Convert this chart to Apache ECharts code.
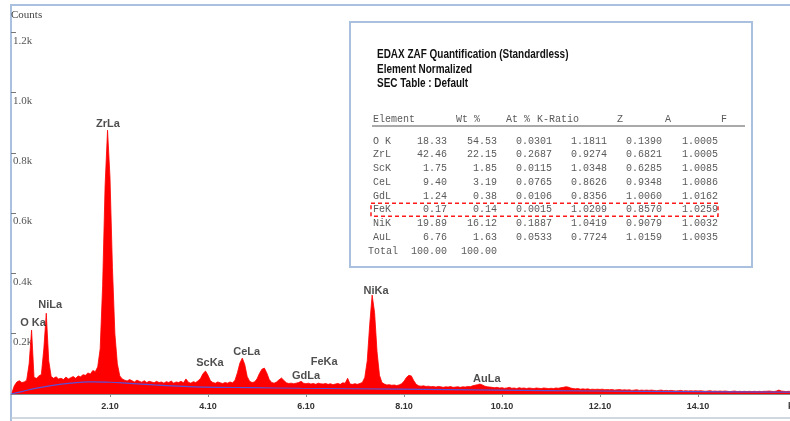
<!DOCTYPE html>
<html>
<head>
<meta charset="utf-8">
<script src="https://cdn.jsdelivr.net/npm/echarts@6.0.0/dist/echarts.min.js"></script>
<style>
  html, body { margin: 0; padding: 0; background: #fff; }
  #chart { width: 790px; height: 421px; }
</style>
</head>
<body>
<div id="chart"></div>
<script>
// spectrum channels: first channel energy and channel width (keV)
var energyStart = 0.10;
var energyStep = 0.05;
// counts per channel, one row per keV (0.10 .. 16.10)
var counts = [
  5, 28, 40, 44, 38, 40, 46, 100, 212, 55, 52, 60, 65, 150, 268, 110, 58, 52, 57, 50,
  52, 48, 56, 50, 54, 58, 52, 60, 57, 64, 62, 70, 66, 78, 74, 90, 150, 360, 690, 875,
  720, 420, 200, 100, 60, 50, 46, 43, 48, 44, 40, 46, 42, 39, 44, 38, 42, 40, 37, 42,
  38, 40, 36, 41, 38, 43, 36, 40, 38, 42, 37, 50, 39, 36, 41, 38, 44, 52, 68, 76,
  62, 44, 38, 36, 40, 37, 35, 38, 36, 40, 37, 45, 70, 102, 119, 98, 58, 42, 38, 40,
  50, 68, 82, 86, 70, 48, 38, 36, 40, 47, 53, 45, 37, 35, 36, 34, 36, 38, 42, 36,
  34, 36, 33, 35, 32, 36, 34, 33, 35, 32, 34, 31, 33, 35, 32, 37, 36, 52, 33, 32,
  34, 32, 35, 38, 55, 110, 230, 328, 270, 140, 62, 38, 33, 30, 31, 29, 30, 28, 30, 34,
  42, 55, 62, 60, 44, 32, 27, 26, 27, 25, 26, 24, 25, 23, 25, 24, 22, 24, 23, 25,
  22, 23, 24, 22, 24, 23, 25, 24, 27, 29, 31, 33, 30, 26, 24, 23, 22, 21, 22, 20,
  21, 19, 20, 22, 19, 20, 18, 21, 19, 20, 18, 20, 19, 18, 20, 19, 18, 20, 19, 18,
  19, 18, 20, 19, 21, 22, 24, 23, 20, 18, 17, 18, 16, 17, 16, 17, 15, 16, 15, 16,
  15, 16, 14, 15, 14, 15, 13, 14, 15, 13, 14, 13, 14, 12, 13, 14, 12, 13, 12, 13,
  12, 13, 12, 11, 12, 13, 11, 12, 11, 12, 11, 10, 11, 12, 10, 11, 10, 11, 10, 11,
  10, 11, 10, 9, 10, 11, 9, 10, 9, 10, 9, 10, 9, 8, 9, 10, 8, 9, 8, 9,
  8, 9, 8, 9, 8, 9, 8, 9, 9, 10, 9, 8, 10, 13, 10, 9, 8, 9, 8, 9,
  8
];
// fitted background (bremsstrahlung)
var bgEnergy = [0.08, 0.3, 0.55, 0.9, 1.3, 1.7, 2.1, 2.5, 3.0, 3.5, 4.0, 5.0, 6.0, 8.0, 10.0, 12.0, 14.0, 16.1];
var bgCounts = [0, 8, 18, 28, 36, 40, 39, 35, 30, 26, 23, 21, 19, 16, 13, 10, 8, 6];

var peakNames = ['O Ka', 'NiLa', 'ZrLa', 'ScKa', 'CeLa', 'GdLa', 'FeKa', 'NiKa', 'AuLa'];
var peakLabelEnergy = [0.53, 0.88, 2.06, 4.14, 4.89, 6.10, 6.47, 7.53, 9.79];
var peakLabelCounts = [235, 295, 895, 103, 139, 60, 106, 341, 50];

var xTickValues = [2.1, 4.1, 6.1, 8.1, 10.1, 12.1, 14.1];
var xUnitValue = 16.1;
var yTickValues = [200, 400, 600, 800, 1000, 1200];

// quantification table
var tableTitle = ['EDAX ZAF Quantification (Standardless)', 'Element Normalized', 'SEC Table : Default'];
var tableHeader = ['Element', 'Wt %', 'At %', 'K-Ratio', 'Z', 'A', 'F'];
var tableElements = ['O K', 'ZrL', 'ScK', 'CeL', 'GdL', 'FeK', 'NiK', 'AuL', 'Total'];
var tableWt = ['18.33', '42.46', '1.75', '9.40', '1.24', '0.17', '19.89', '6.76', '100.00'];
var tableAt = ['54.53', '22.15', '1.85', '3.19', '0.38', '0.14', '16.12', '1.63', '100.00'];
var tableKRatio = ['0.0301', '0.2687', '0.0115', '0.0765', '0.0106', '0.0015', '0.1887', '0.0533', ''];
var tableZ = ['1.1811', '0.9274', '1.0348', '0.8626', '0.8356', '1.0209', '1.0419', '0.7724', ''];
var tableA = ['0.1390', '0.6821', '0.6285', '0.9348', '1.0060', '0.8570', '0.9079', '1.0159', ''];
var tableF = ['1.0005', '1.0005', '1.0085', '1.0086', '1.0162', '1.0259', '1.0032', '1.0035', ''];
var highlightRow = 5;

(function() {
  var spectrum = counts.map(function(c, i) {
    return [+(energyStart + i * energyStep).toFixed(2), c];
  });
  var background = bgEnergy.map(function(e, i) { return [e, bgCounts[i]]; });
  var peaks = peakNames.map(function(n, i) {
    return { name: n, value: [peakLabelEnergy[i], peakLabelCounts[i]] };
  });

  // --- table graphic ---
  var mono = '10px "Liberation Mono", "DejaVu Sans Mono", monospace';
  var grey = '#5a5a5a';
  var box = { left: 350, top: 22, width: 402, height: 245 };
  var rowTop = 141, rowStep = 13.75;
  var colRight = [447, 497, 552, 607, 662, 718];
  var headerX = [373, 456, 506, 537, 620, 668, 724];
  var cols = [tableWt, tableAt, tableKRatio, tableZ, tableA, tableF];

  var g = [];
  g.push({
    type: 'rect', shape: { x: box.left, y: box.top, width: box.width, height: box.height },
    style: { fill: '#fff', stroke: '#a9c1df', lineWidth: 2 }
  });
  // title lines use a condensed bold face; squeeze horizontally
  tableTitle.forEach(function(t, i) {
    g.push({
      type: 'text', x: 377, y: 55 + i * 14.5, scaleX: 0.83,
      style: {
        text: t, x: 0, y: 0, fill: '#111', textVerticalAlign: 'middle',
        font: 'bold 12px "Liberation Sans", Arial, sans-serif'
      }
    });
  });
  tableHeader.forEach(function(t, i) {
    g.push({
      type: 'text', x: headerX[i], y: 119,
      style: { text: t, fill: grey, font: mono, textVerticalAlign: 'middle', textAlign: i >= 4 ? 'center' : 'left' }
    });
  });
  g.push({
    type: 'line', shape: { x1: 372, y1: 126, x2: 745, y2: 126 },
    style: { stroke: '#8c8c8c', lineWidth: 1.5 }
  });
  tableElements.forEach(function(el, r) {
    var y = rowTop + r * rowStep;
    g.push({
      type: 'text', x: el === 'Total' ? 368 : 373, y: y,
      style: { text: el, fill: grey, font: mono, textVerticalAlign: 'middle' }
    });
    cols.forEach(function(col, c) {
      if (!col[r]) return;
      g.push({
        type: 'text', x: colRight[c], y: y,
        style: { text: col[r], fill: grey, font: mono, textAlign: 'right', textVerticalAlign: 'middle' }
      });
    });
  });
  g.push({
    type: 'rect',
    shape: { x: 371, y: rowTop + highlightRow * rowStep - 6.5, width: 347, height: 13 },
    style: { fill: 'none', stroke: '#ff1a1a', lineWidth: 1.5, lineDash: [4, 3] }
  });

  // frame lines
  g.push({ type: 'line', shape: { x1: 11, y1: 4, x2: 11, y2: 421 }, style: { stroke: '#a9c1df', lineWidth: 2 } });
  g.push({ type: 'line', shape: { x1: 11, y1: 5, x2: 790, y2: 5 }, style: { stroke: '#a9c1df', lineWidth: 2 } });
  g.push({ type: 'line', shape: { x1: 11, y1: 418, x2: 790, y2: 418 }, style: { stroke: '#c3cbd6', lineWidth: 1.5 } });

  var chart = echarts.init(document.getElementById('chart'), null, { renderer: 'canvas' });
  chart.setOption({
    animation: false,
    backgroundColor: '#fff',
    title: {
      text: 'Counts', left: 11, top: 10, padding: 0,
      textStyle: { fontFamily: '"Liberation Serif", serif', fontSize: 11, fontWeight: 'normal', color: '#444' }
    },
    grid: { left: 11, right: -6, top: 5, bottom: 27, outerBoundsMode: 'none' },
    xAxis: {
      type: 'value',
      min: 0.08,
      max: xUnitValue,
      splitLine: { show: false },
      axisLine: { lineStyle: { color: '#8a8a8a', width: 1 } },
      axisTick: { customValues: xTickValues, length: 3, lineStyle: { color: '#8a8a8a' } },
      axisLabel: {
        customValues: xTickValues.concat([xUnitValue]),
        formatter: function(v) { return v >= xUnitValue ? 'keV' : v.toFixed(2); },
        color: '#333', fontSize: 9, fontWeight: 'bold', fontFamily: '"Liberation Sans", Arial, sans-serif',
        margin: 8
      }
    },
    yAxis: {
      type: 'value',
      min: 0,
      max: 1290,
      axisLine: { show: false },
      splitLine: { show: false },
      axisTick: { show: true, inside: true, length: 5, customValues: yTickValues, lineStyle: { color: '#777' } },
      axisLabel: {
        inside: true,
        customValues: yTickValues,
        formatter: function(v) { return (v / 1000).toFixed(1) + 'k'; },
        color: '#555', fontSize: 11, fontFamily: '"Liberation Serif", serif',
        verticalAlign: 'top', margin: 2, padding: [3, 0, 0, 0]
      }
    },
    series: [
      {
        name: 'spectrum',
        type: 'line',
        data: spectrum,
        symbol: 'none',
        lineStyle: { color: '#ff0000', width: 0.8 },
        areaStyle: { color: '#ff0000', opacity: 1 },
        z: 2
      },
      {
        name: 'background',
        type: 'line',
        data: background,
        smooth: 0.4,
        symbol: 'none',
        lineStyle: { color: '#5a50d8', width: 1.2 },
        z: 3
      },
      {
        name: 'peaks',
        type: 'scatter',
        data: peaks,
        symbolSize: 1,
        itemStyle: { color: 'transparent' },
        label: {
          show: true, position: 'inside', formatter: '{b}',
          color: '#222', fontSize: 11, fontWeight: 'bold', fontFamily: '"Liberation Sans", Arial, sans-serif'
        },
        z: 4
      }
    ],
    graphic: g
  });
})();
</script>
</body>
</html>
